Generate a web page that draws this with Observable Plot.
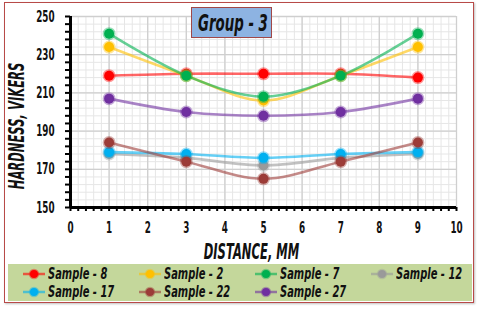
<!DOCTYPE html>
<html>
<head>
<meta charset="utf-8">
<script src="https://cdn.jsdelivr.net/npm/d3@7"></script>
<script src="https://cdn.jsdelivr.net/npm/@observablehq/plot@0.6"></script>
<style>
  html, body { margin: 0; padding: 0; background: #fff; }
  #wrap { position: relative; width: 480px; height: 311px; overflow: hidden; background: #fff;
          font-family: "DejaVu Sans", sans-serif; font-weight: bold; color: #111; }
  #border { position: absolute; left: 4px; top: 2px; width: 468px; height: 299px; border: 1.5px solid #b84a48;
            box-shadow: 1px 1px 2px rgba(0,0,0,0.25); }
  #chart { position: absolute; left: 0; top: 0; }
  #title { position: absolute; left: 191px; top: 7px; width: 81px; height: 31px; background: #8db3e2;
           border: 1px solid #a04848; box-sizing: border-box; }
  #title span { position: absolute; left: 6px; top: 0; line-height: 30px; font-size: 23px; font-style: italic;
                white-space: nowrap; display: inline-block; transform: scaleX(0.58); transform-origin: left center; }
  #legend { position: absolute; left: 8px; top: 264px; width: 464px; height: 37px; background: #c4d79b; }
  .li { position: absolute; height: 18px; }
  .li svg { position: absolute; left: 0; top: 3px; }
  .li span { position: absolute; left: 26px; top: 0; line-height: 18px; font-size: 16px; font-style: italic; white-space: nowrap;
             display: inline-block; transform: scaleX(0.62); transform-origin: left center; }
</style>
</head>
<body>
<div id="wrap">
  <div id="border"></div>
  <div id="chart"></div>
  <div id="title"><span>Group - 3</span></div>
  <div id="legend"></div>
</div>
<script>
const distance = [1, 3, 5, 7, 9];
const seriesNames = ["Sample - 8", "Sample - 2", "Sample - 7", "Sample - 12", "Sample - 17", "Sample - 22", "Sample - 27"];
const seriesColors = ["#ff0000", "#ffc000", "#00b050", "#9a9a9a", "#00b0f0", "#9c3c38", "#7030a0"];
const sample8  = [219, 220, 220, 220, 218];
const sample2  = [234, 219, 206, 219, 234];
const sample7  = [241, 219, 208, 219, 241];
const sample12 = [178, 176, 172, 176, 178];
const sample17 = [179, 178, 176, 178, 179];
const sample22 = [184, 174, 165, 174, 184];
const sample27 = [207, 200, 198, 200, 207];
const xTicks = [0, 1, 2, 3, 4, 5, 6, 7, 8, 9, 10];
const yTicks = [150, 170, 190, 210, 230, 250];
const xTitle = "DISTANCE, MM";
const yTitle = "HARDNESS, VIKERS";

const allValues = [sample8, sample2, sample7, sample12, sample17, sample22, sample27];
const data = [];
seriesNames.forEach((name, i) => {
  distance.forEach((d, j) => data.push({series: name, x: d, y: allValues[i][j]}));
});

const minorX = d3.range(0, 10.001, 0.2);
const minorY = d3.range(150, 250.001, 4);

const marks = [
  Plot.gridX(minorX, {stroke: "#e6e6e6", strokeOpacity: 1}),
  Plot.gridY(minorY, {stroke: "#e6e6e6", strokeOpacity: 1}),
  Plot.gridX(xTicks, {stroke: "#cfcfcf", strokeOpacity: 1, strokeWidth: 1.3}),
  Plot.gridY(yTicks, {stroke: "#cfcfcf", strokeOpacity: 1, strokeWidth: 1.3}),
  Plot.axisX(minorX, {tickSize: 4, text: null, label: null, strokeWidth: 2, stroke: "#000"}),
  Plot.axisY(minorY, {tickSize: 5, text: null, label: null, strokeWidth: 2, stroke: "#000"}),
  Plot.axisX(xTicks, {tickSize: 0, tickPadding: 14, fontSize: 16, label: null, fill: "#111"}),
  Plot.axisY(yTicks, {tickSize: 0, tickPadding: 16, fontSize: 16, label: null, fill: "#111"}),
  Plot.ruleY([150], {strokeWidth: 3, stroke: "#000"}),
  Plot.ruleX([0], {strokeWidth: 3, stroke: "#000"}),
];
seriesNames.forEach((name, i) => {
  const rows = data.filter(d => d.series === name);
  marks.push(Plot.line(rows, {x: "x", y: "y", stroke: seriesColors[i], strokeWidth: 2.6, strokeOpacity: 0.6, curve: "catmull-rom"}));
  marks.push(Plot.dot(rows, {x: "x", y: "y", r: 5, fill: seriesColors[i], stroke: seriesColors[i], strokeOpacity: 0.4, strokeWidth: 3}));
});
marks.push(Plot.text([xTitle], {frameAnchor: "bottom", textAnchor: "middle", lineAnchor: "middle", dx: -12, dy: 45, fontSize: 21, fontStyle: "italic", fontWeight: "bold", fill: "#111"}));
marks.push(Plot.text([yTitle], {frameAnchor: "left", textAnchor: "middle", lineAnchor: "middle", dx: -53, dy: 14, rotate: -90, fontSize: 21, fontStyle: "italic", fontWeight: "bold", fill: "#111"}));

const chart = Plot.plot({
  width: 480,
  height: 262,
  marginLeft: 70,
  marginRight: 24,
  marginTop: 16,
  marginBottom: 55,
  x: {domain: [0, 10]},
  y: {domain: [150, 250]},
  style: {fontFamily: '"DejaVu Sans", sans-serif', fontWeight: "bold", background: "transparent", overflow: "visible"},
  marks
});
document.getElementById("chart").appendChild(chart);

// condense every SVG text horizontally (the reference uses a narrow display face)
chart.querySelectorAll("text").forEach(t => {
  const len = t.getComputedTextLength();
  if (len > 0) {
    t.setAttribute("textLength", (len * 0.55).toFixed(2));
    t.setAttribute("lengthAdjust", "spacingAndGlyphs");
  }
});

const legend = document.getElementById("legend");
const colX = [14, 130, 246, 362];
const rowY = [1, 19];
seriesNames.forEach((name, i) => {
  const item = document.createElement("div");
  item.className = "li";
  item.style.left = colX[i % 4] + "px";
  item.style.top = rowY[Math.floor(i / 4)] + "px";
  const c = seriesColors[i];
  item.innerHTML = `<svg width="24" height="12"><line x1="1" x2="23" y1="6" y2="6" stroke="${c}" stroke-opacity="0.6" stroke-width="2.5"/><circle cx="12" cy="6" r="4" fill="${c}" stroke="${c}" stroke-opacity="0.4" stroke-width="2.5"/></svg><span>${name}</span>`;
  legend.appendChild(item);
});
</script>
</body>
</html>
